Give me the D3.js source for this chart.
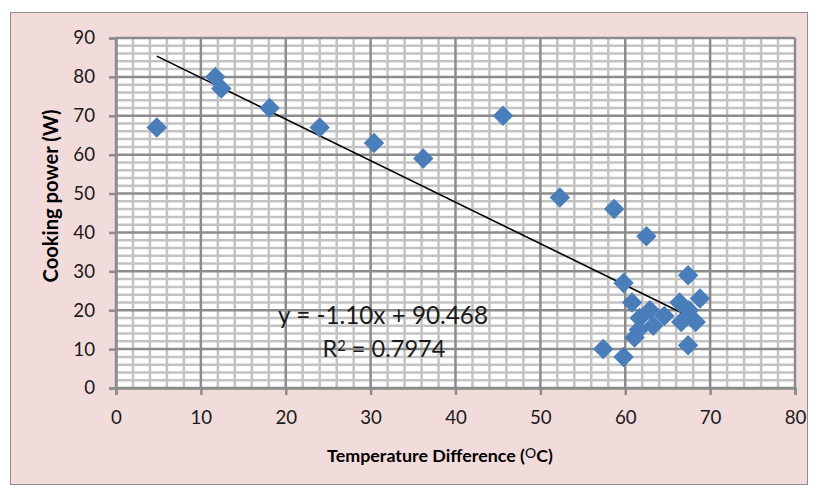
<!DOCTYPE html>
<html>
<head>
<meta charset="utf-8">
<script src="https://cdn.jsdelivr.net/npm/d3@7"></script>
<style>
  html, body { margin: 0; padding: 0; background: #ffffff; }
  svg { display: block; }
</style>
</head>
<body>
<svg id="chart" width="818" height="494"></svg>
<script>
// ---- data ----
const tempDiff = [4.8, 11.7, 12.4, 18.1, 24.0, 30.4, 36.2, 45.6, 52.3, 58.7, 62.5, 67.4, 59.8, 57.4, 59.8,
                  60.8, 61.7, 62.9, 61.1, 61.6, 63.3, 64.6, 66.4, 66.6, 67.5, 68.3, 68.8, 67.4];
const cookingPower = [67, 80, 77, 72, 67, 63, 59, 70, 49, 46, 39, 29, 27, 10, 8,
                      22, 18, 20, 13, 15, 16, 18.5, 22, 17, 20, 17, 23, 11];
const xTicks = [0, 10, 20, 30, 40, 50, 60, 70, 80];
const yTicks = [0, 10, 20, 30, 40, 50, 60, 70, 80, 90];
const trendSlope = -1.067;
const trendIntercept = 90.468;
const equationLabel = "y = -1.10x + 90.468";
const r2Label = "0.7974";
const xTitle = "Temperature Difference (";
const yTitle = "Cooking power (W)";

// ---- layout ----
const svg = d3.select("#chart");
const W = 818, H = 494;
const plot = { left: 116, right: 795, top: 38, bottom: 388 };
const font = "Lato, 'Open Sans', sans-serif";

// scale a text element's font-size so its advance width matches a target
function fitWidth(sel, target) {
  const cur = parseFloat(sel.style("font-size"));
  const w = sel.node().getComputedTextLength();
  sel.style("font-size", (cur * target / w) + "px");
}

svg.append("rect").attr("x", 0).attr("y", 0).attr("width", W).attr("height", H).attr("fill", "#ffffff");
svg.append("rect").attr("x", 10.5).attr("y", 12.5).attr("width", 797).attr("height", 472)
  .attr("fill", "#f2dcdb").attr("stroke", "#8c8c8c").attr("stroke-width", 1);

const x = d3.scaleLinear().domain([0, 80]).range([plot.left, plot.right]);
const y = d3.scaleLinear().domain([0, 90]).range([plot.bottom, plot.top]);

svg.append("rect").attr("x", plot.left).attr("y", plot.top)
  .attr("width", plot.right - plot.left).attr("height", plot.bottom - plot.top).attr("fill", "#ffffff");

const minorX = d3.range(0, 81, 2).filter(v => v % 10 !== 0);
const minorY = d3.range(0, 91, 2).filter(v => v % 10 !== 0);
const g = svg.append("g");

g.selectAll(".mx").data(minorX).enter().append("line")
  .attr("x1", d => x(d)).attr("x2", d => x(d)).attr("y1", plot.top).attr("y2", plot.bottom)
  .attr("stroke", "#c3c3c3").attr("stroke-width", 2.5);
g.selectAll(".my").data(minorY).enter().append("line")
  .attr("y1", d => y(d)).attr("y2", d => y(d)).attr("x1", plot.left).attr("x2", plot.right)
  .attr("stroke", "#c3c3c3").attr("stroke-width", 2.5);
g.selectAll(".Mx").data(xTicks).enter().append("line")
  .attr("x1", d => x(d)).attr("x2", d => x(d)).attr("y1", plot.top).attr("y2", plot.bottom)
  .attr("stroke", "#8c8c8c").attr("stroke-width", 2.5);
g.selectAll(".My").data(yTicks).enter().append("line")
  .attr("y1", d => y(d)).attr("y2", d => y(d)).attr("x1", plot.left).attr("x2", plot.right)
  .attr("stroke", "#8c8c8c").attr("stroke-width", 2.5);

// axes
const xAxis = d3.axisBottom(x).tickValues(xTicks).tickSize(7).tickPadding(16);
const yAxis = d3.axisLeft(y).tickValues(yTicks).tickSize(7).tickPadding(14);
const gx = svg.append("g").attr("transform", `translate(0,${plot.bottom})`).call(xAxis);
const gy = svg.append("g").attr("transform", `translate(${plot.left},0)`).call(yAxis);
[gx, gy].forEach(a => {
  a.select(".domain").attr("stroke", "#8c8c8c").attr("stroke-width", 2.5);
  a.selectAll(".tick line").attr("stroke", "#8c8c8c").attr("stroke-width", 2.5);
  a.selectAll(".tick text").attr("fill", "#1a1a1a").style("font-family", font).style("font-size", "18px");
});
// fit tick label size to reference width of a two-digit label
{
  const probe = svg.append("text").style("font-family", font).style("font-size", "18px").text("90");
  const w = probe.node().getComputedTextLength();
  probe.remove();
  const fs = 18 * 21.7 / w;
  [gx, gy].forEach(a => a.selectAll(".tick text").style("font-size", fs + "px"));
}

// trendline
const xmin = d3.min(tempDiff), xmax = d3.max(tempDiff);
svg.append("line")
  .attr("x1", x(xmin)).attr("y1", y(trendSlope * xmin + trendIntercept))
  .attr("x2", x(xmax)).attr("y2", y(trendSlope * xmax + trendIntercept))
  .attr("stroke", "#000000").attr("stroke-width", 1.6);

// points
const pts = tempDiff.map((d, i) => [d, cookingPower[i]]);
const diamond = d3.symbol().type(d3.symbolSquare).size(210);
svg.append("g").selectAll("path").data(pts).enter().append("path")
  .attr("d", diamond)
  .attr("transform", d => `translate(${x(d[0])},${y(d[1])}) rotate(45)`)
  .attr("fill", "#4a7ebb");

// equation labels
const eq = svg.append("text").attr("x", 383).attr("y", 324).attr("text-anchor", "middle")
  .style("font-family", font).style("font-size", "24px").attr("fill", "#1a1a1a")
  .text(equationLabel);
fitWidth(eq, 210);
const r2 = svg.append("text").attr("x", 384).attr("y", 357).attr("text-anchor", "middle")
  .style("font-family", font).style("font-size", "24px").attr("fill", "#1a1a1a");
r2.append("tspan").text("R");
r2.append("tspan").attr("dy", "-0.38em").style("font-size", "0.62em").text("2");
r2.append("tspan").attr("dy", "0.235em").text(" = " + r2Label);
fitWidth(r2, 123);

// axis titles
const xt = svg.append("text").attr("x", 440).attr("y", 462).attr("text-anchor", "middle")
  .style("font-family", font).style("font-size", "17px").style("font-weight", "bold").attr("fill", "#000");
xt.append("tspan").text(xTitle);
xt.append("tspan").attr("dy", "-0.3em").style("font-size", "0.78em").style("font-weight", "normal").text("O");
xt.append("tspan").attr("dy", "0.234em").text("C)");
fitWidth(xt, 226);

const yt = svg.append("text").attr("transform", `translate(58,196) rotate(-90)`).attr("text-anchor", "middle")
  .style("font-family", font).style("font-size", "18px").style("font-weight", "bold").attr("fill", "#000")
  .text(yTitle);
fitWidth(yt, 173);
</script>
</body>
</html>
